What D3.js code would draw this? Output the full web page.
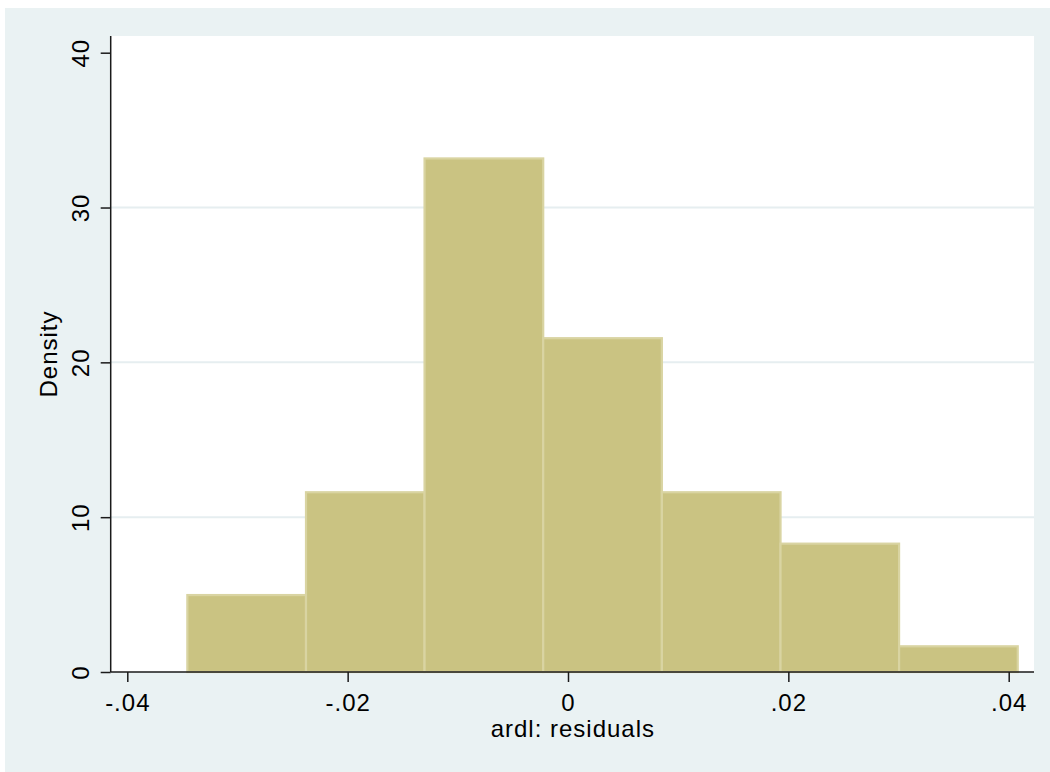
<!DOCTYPE html>
<html>
<head>
<meta charset="utf-8">
<script src="https://cdn.jsdelivr.net/npm/d3@7"></script>
<style>
  html, body { margin: 0; padding: 0; background: #ffffff; }
  svg { display: block; }
  text { font-family: "Liberation Sans", Arial, Helvetica, sans-serif; fill: #000; }
</style>
</head>
<body>
<svg id="chart" width="1050" height="772"></svg>
<script>
// ---- data ----
const binEdges = [-0.03455, -0.02378, -0.01302, -0.00225, 0.00852, 0.01929, 0.03005, 0.04082];
const densities = [4.97, 11.61, 33.17, 21.56, 11.61, 8.29, 1.66];
const xTicks = [-0.04, -0.02, 0, 0.02, 0.04];
const xTickLabels = ["-.04", "-.02", "0", ".02", ".04"];
const yTicks = [0, 10, 20, 30, 40];
const yGrid = [10, 20, 30];
const xTitle = "ardl: residuals";
const yTitle = "Density";

// ---- layout ----
const W = 1050, H = 772;
const plot = { left: 110.7, right: 1034, top: 36, bottom: 672 };

const svg = d3.select("#chart");

// outer graph region
svg.append("rect").attr("x", 5).attr("y", 8).attr("width", W - 5).attr("height", H - 8)
  .attr("fill", "#EAF2F3");
// plot region
svg.append("rect").attr("x", plot.left).attr("y", plot.top)
  .attr("width", plot.right - plot.left).attr("height", plot.bottom - plot.top)
  .attr("fill", "#ffffff");

const x = d3.scaleLinear().domain([-0.04, 0.04]).range([127.3, 1008.7]);
const y = d3.scaleLinear().domain([0, 40]).range([672, 52.7]);

// gridlines
svg.append("g").selectAll("line").data(yGrid).join("line")
  .attr("x1", plot.left).attr("x2", plot.right)
  .attr("y1", d => y(d)).attr("y2", d => y(d))
  .attr("stroke", "#E6EEF0").attr("stroke-width", 2);

// bars
const bins = densities.map((d, i) => ({ x0: binEdges[i], x1: binEdges[i + 1], v: d }));
svg.append("g").selectAll("rect").data(bins).join("rect")
  .attr("x", d => x(d.x0))
  .attr("width", d => x(d.x1) - x(d.x0))
  .attr("y", d => y(d.v))
  .attr("height", d => y(0) - y(d.v))
  .attr("fill", "#CAC382")
  .attr("stroke", "#D9D4A2")
  .attr("stroke-width", 2.2);

// axis lines
svg.append("line").attr("x1", plot.left).attr("x2", plot.right)
  .attr("y1", plot.bottom).attr("y2", plot.bottom)
  .attr("stroke", "#1a1a1a").attr("stroke-width", 1.5);
svg.append("line").attr("x1", plot.left).attr("x2", plot.left)
  .attr("y1", plot.top).attr("y2", plot.bottom)
  .attr("stroke", "#1a1a1a").attr("stroke-width", 1.5);

// x axis ticks
const xAxis = d3.axisBottom(x).tickValues(xTicks)
  .tickFormat((d, i) => xTickLabels[i]).tickSize(10).tickSizeOuter(0);
const gx = svg.append("g").attr("transform", `translate(0,${plot.bottom})`).call(xAxis);
gx.select(".domain").remove();
gx.selectAll(".tick line").attr("stroke", "#1a1a1a").attr("stroke-width", 1.5);
gx.selectAll(".tick text")
  .attr("y", 39).attr("dy", 0)
  .style("font-size", "24px").style("letter-spacing", "1px")
  .attr("fill", "#000");

// y axis ticks
const yAxis = d3.axisLeft(y).tickValues(yTicks).tickFormat(d3.format("d")).tickSize(10).tickSizeOuter(0);
const gy = svg.append("g").attr("transform", `translate(${plot.left},0)`).call(yAxis);
gy.select(".domain").remove();
gy.selectAll(".tick line").attr("stroke", "#1a1a1a").attr("stroke-width", 1.5);
gy.selectAll(".tick text")
  .attr("transform", "rotate(-90)")
  .attr("x", 0).attr("y", -21.5).attr("dy", 0)
  .attr("text-anchor", "middle")
  .style("font-size", "24px").style("letter-spacing", "1px")
  .attr("fill", "#000");

d3.selectAll(".tick text").style("font-family", "'Liberation Sans', Arial, sans-serif");

// axis titles
svg.append("text")
  .attr("x", (plot.left + plot.right) / 2 + 0.5).attr("y", 737)
  .attr("text-anchor", "middle")
  .style("font-size", "24px").style("letter-spacing", "1px")
  .text(xTitle);

svg.append("text")
  .attr("transform", `translate(57,${(plot.top + plot.bottom) / 2}) rotate(-90)`)
  .attr("text-anchor", "middle")
  .style("font-size", "24px").style("letter-spacing", "1px")
  .text(yTitle);
</script>
</body>
</html>
